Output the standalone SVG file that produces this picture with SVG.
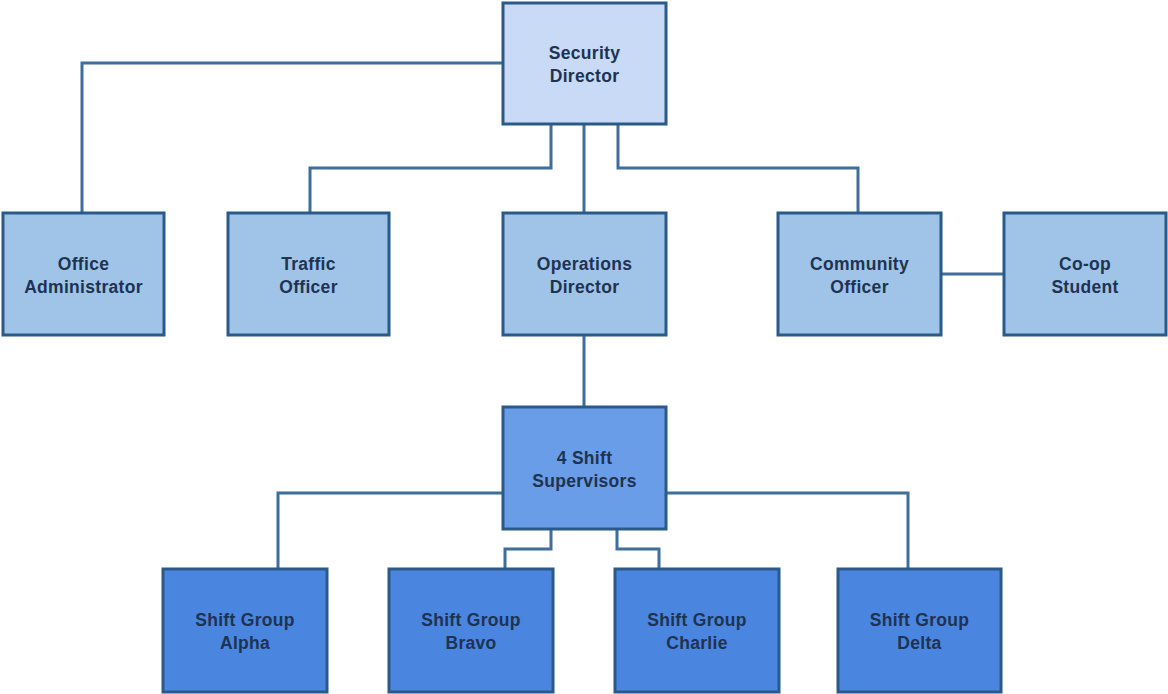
<svg xmlns="http://www.w3.org/2000/svg" width="1168" height="694" viewBox="0 0 1168 694">
<style>
.box{stroke:#2b5a88;stroke-width:3}
.l0{fill:#c8daf5}
.l1{fill:#9fc4e8}
.l2{fill:#6a9de8}
.l3{fill:#4a85e0}
text{font-family:"Liberation Sans",Arial,sans-serif;font-weight:bold;font-size:17.5px;letter-spacing:0.3px;fill:#1e3352;text-anchor:middle}
.conn{fill:none;stroke:#3f6e9c;stroke-width:3}
</style>
<rect width="1168" height="694" fill="#ffffff"/>
<g id="connectors">
<path class="conn" d="M503,63 H82 V213"/>
<path class="conn" d="M551,124 V168 H310 V213"/>
<path class="conn" d="M584,124 V213"/>
<path class="conn" d="M618,124 V168 H858 V213"/>
<path class="conn" d="M941,274 H1004"/>
<path class="conn" d="M584,335 V407"/>
<path class="conn" d="M503,493 H278 V569"/>
<path class="conn" d="M551,529 V549 H505 V569"/>
<path class="conn" d="M617,529 V549 H659 V569"/>
<path class="conn" d="M666,493 H908 V569"/>
</g>
<g id="security-director"><rect class="box l0" x="503" y="3" width="163" height="121"/><text x="584.5" y="59">Security</text><text x="584.5" y="82">Director</text></g>
<g id="office-administrator"><rect class="box l1" x="3" y="213" width="161" height="122"/><text x="83.5" y="270">Office</text><text x="83.5" y="293">Administrator</text></g>
<g id="traffic-officer"><rect class="box l1" x="228" y="213" width="161" height="122"/><text x="308.5" y="270">Traffic</text><text x="308.5" y="293">Officer</text></g>
<g id="operations-director"><rect class="box l1" x="503" y="213" width="163" height="122"/><text x="584.5" y="270">Operations</text><text x="584.5" y="293">Director</text></g>
<g id="community-officer"><rect class="box l1" x="778" y="213" width="163" height="122"/><text x="859.5" y="270">Community</text><text x="859.5" y="293">Officer</text></g>
<g id="coop-student"><rect class="box l1" x="1004" y="213" width="162" height="122"/><text x="1085" y="270">Co-op</text><text x="1085" y="293">Student</text></g>
<g id="shift-supervisors"><rect class="box l2" x="503" y="407" width="163" height="122"/><text x="584.5" y="464">4 Shift</text><text x="584.5" y="487">Supervisors</text></g>
<g id="shift-alpha"><rect class="box l3" x="163" y="569" width="164" height="123"/><text x="245" y="626">Shift Group</text><text x="245" y="649">Alpha</text></g>
<g id="shift-bravo"><rect class="box l3" x="389" y="569" width="164" height="123"/><text x="471" y="626">Shift Group</text><text x="471" y="649">Bravo</text></g>
<g id="shift-charlie"><rect class="box l3" x="615" y="569" width="164" height="123"/><text x="697" y="626">Shift Group</text><text x="697" y="649">Charlie</text></g>
<g id="shift-delta"><rect class="box l3" x="838" y="569" width="163" height="123"/><text x="919.5" y="626">Shift Group</text><text x="919.5" y="649">Delta</text></g>
</svg>
